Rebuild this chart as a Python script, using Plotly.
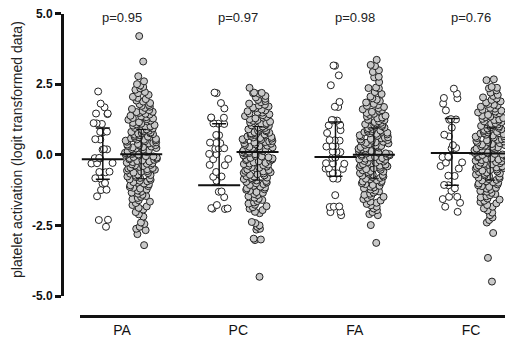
import numpy as np
import plotly.graph_objects as go

categories = ["PA", "PC", "FA", "FC"]
p_labels = ["p=0.95", "p=0.97", "p=0.98", "p=0.76"]
y_ticks = [-5.0, -2.5, 0.0, 2.5, 5.0]
y_ticktext = ["-5.0", "-2.5", "0.0", "2.5", "5.0"]

PA_small = [2.24, 1.81, 1.68, 1.46, 1.46, 1.44, 1.11, 1.12, 1.09, 0.81, 0.82, 0.79, 0.54, 0.55,
            0.19, 0.2, 0.18, -0.12, -0.11, -0.13, -0.30, -0.29, -0.31, -0.61, -0.6, -0.62, -0.83,
            -0.84, -1.0, -1.02, -1.25, -1.24, -1.47, -2.31, -2.3, -2.55]
PC_small = [2.18, 2.2, 1.83, 1.64, 1.31, 1.32, 1.3, 1.10, 1.11, 1.09, 0.69, 0.7, 0.42, 0.43, 0.41,
            0.22, 0.23, 0.21, 0.02, 0.03, -0.16, -0.15, -0.37, -0.36, -0.61, -0.78, -0.77, -0.92,
            -1.31, -1.3, -1.5, -1.78, -1.9, -1.91, -1.89, -1.92]
FA_small = [3.16, 3.15, 2.81, 2.46, 1.87, 1.69, 1.7, 1.22, 1.23, 1.21, 1.04, 1.05, 0.87, 0.77,
            0.51, 0.52, 0.5, 0.30, 0.31, 0.29, 0.10, 0.11, 0.09, -0.10, -0.11, -0.31, -0.3, -0.32,
            -0.49, -0.48, -0.5, -0.66, -0.67, -0.65, -0.84, -0.85, -1.43, -1.84, -1.83, -1.85,
            -2.02, -2.03, -2.14]
FC_small = [2.34, 2.16, 2.0, 2.01, 1.81, 1.57, 1.25, 1.26, 1.24, 0.96, 0.71, 0.65, 0.34, 0.24,
            0.22, -0.08, -0.07, -0.09, -0.27, -0.28, -0.40, -0.49, -0.75, -0.74, -1.08, -1.07,
            -1.19, -1.28, -1.49, -1.49, -1.57, -1.70, -1.84, -2.02]

PA_large = [4.2, 3.3, 2.78, 2.6, 2.5, 2.45, 2.4, 2.35, 2.3,
            2.22, 2.18, 2.12, 2.05, 2.01,
            1.97, 1.92, 1.88, 1.83, 1.79, 1.76,
            1.73, 1.70, 1.66, 1.62, 1.58, 1.55, 1.52, 1.51,
            1.48, 1.45, 1.42, 1.38, 1.36, 1.33, 1.30, 1.28, 1.26,
            1.24, 1.21, 1.18, 1.15, 1.13, 1.10, 1.08, 1.05, 1.03, 1.01, 1.00,
            0.98, 0.95, 0.93, 0.90, 0.88, 0.85, 0.83, 0.81, 0.79, 0.77, 0.76, 0.75,
            0.73, 0.71, 0.69, 0.66, 0.64, 0.62, 0.60, 0.58, 0.56, 0.54, 0.53, 0.51, 0.50,
            0.48, 0.46, 0.44, 0.42, 0.40, 0.38, 0.36, 0.34, 0.33, 0.31, 0.29, 0.27, 0.26,
            0.24, 0.22, 0.20, 0.18, 0.16, 0.14, 0.12, 0.10, 0.08, 0.07, 0.05, 0.03, 0.02, 0.01,
            -0.01, -0.03, -0.05, -0.06, -0.08, -0.10, -0.12, -0.14, -0.16, -0.18, -0.20, -0.22, -0.24,
            -0.26, -0.28, -0.30, -0.32, -0.34, -0.36, -0.38, -0.40, -0.43, -0.45, -0.47, -0.49,
            -0.51, -0.53, -0.56, -0.58, -0.60, -0.63, -0.65, -0.67, -0.70, -0.72, -0.74,
            -0.77, -0.79, -0.82, -0.84, -0.87, -0.89, -0.92, -0.94, -0.97, -0.99,
            -1.02, -1.05, -1.08, -1.11, -1.14, -1.17, -1.20, -1.23,
            -1.27, -1.31, -1.34, -1.38, -1.42, -1.46, -1.49,
            -1.53, -1.57, -1.61, -1.66, -1.71,
            -1.78, -1.83, -1.88, -1.94,
            -2.03, -2.11, -2.19,
            -2.4, -2.45, -2.55, -2.62, -2.67, -2.81, -3.2]
PC_large = [2.37, 2.2, 2.18, 2.16, 2.19,
            2.08, 2.03, 1.98, 1.94, 1.9, 1.86, 1.81, 1.77,
            1.74, 1.71, 1.67, 1.64, 1.6, 1.57, 1.54, 1.51,
            1.49, 1.46, 1.43, 1.4, 1.37, 1.34, 1.31, 1.29, 1.26,
            1.23, 1.2, 1.17, 1.14, 1.12, 1.09, 1.07, 1.04, 1.02, 1.0,
            0.97, 0.95, 0.92, 0.9, 0.87, 0.85, 0.83, 0.8, 0.78, 0.76, 0.75,
            0.74, 0.72, 0.7, 0.67, 0.65, 0.63, 0.61, 0.59, 0.57, 0.55, 0.53, 0.52,
            0.49, 0.47, 0.45, 0.43, 0.41, 0.39, 0.37, 0.35, 0.32, 0.3, 0.28, 0.26,
            0.24, 0.23, 0.21, 0.19, 0.17, 0.15, 0.13, 0.11, 0.09, 0.07, 0.06, 0.04, 0.02,
            -0.02, -0.04, -0.06, -0.09, -0.11, -0.13, -0.15, -0.17, -0.19, -0.21, -0.23,
            -0.27, -0.29, -0.31, -0.33, -0.35, -0.37, -0.39, -0.42, -0.44, -0.46, -0.48,
            -0.52, -0.54, -0.57, -0.59, -0.62, -0.64, -0.66, -0.69, -0.71, -0.73,
            -0.76, -0.78, -0.81, -0.83, -0.86, -0.88, -0.91, -0.93, -0.96, -0.98,
            -1.01, -1.04, -1.07, -1.1, -1.13, -1.16, -1.19, -1.22, -1.24,
            -1.28, -1.32, -1.35, -1.39, -1.43, -1.47,
            -1.52, -1.56, -1.6, -1.64, -1.69, -1.73,
            -1.77, -1.82, -1.86, -1.91, -1.96, -2.02, -2.07,
            -2.38, -2.42, -2.5, -2.55, -2.62, -2.65, -2.97, -3.02, -3.0, -4.32]
FA_large = [3.36, 3.18, 3.14, 2.99, 2.93, 2.76, 2.74, 2.57, 2.38, 2.36, 2.35, 2.22, 2.15,
            2.06, 2.0, 1.95, 1.9, 1.85, 1.8, 1.76,
            1.73, 1.69, 1.65, 1.61, 1.58, 1.55, 1.52,
            1.48, 1.45, 1.41, 1.38, 1.35, 1.32, 1.29, 1.27,
            1.24, 1.22, 1.19, 1.16, 1.13, 1.11, 1.08, 1.06, 1.03, 1.01,
            0.99, 0.96, 0.94, 0.91, 0.89, 0.86, 0.84, 0.82, 0.8, 0.78, 0.76,
            0.74, 0.72, 0.69, 0.67, 0.65, 0.62, 0.6, 0.58, 0.56, 0.54, 0.52, 0.5,
            0.48, 0.46, 0.44, 0.42, 0.4, 0.37, 0.35, 0.33, 0.31, 0.29, 0.27, 0.25,
            0.23, 0.21, 0.19, 0.17, 0.15, 0.13, 0.11, 0.09, 0.07, 0.05, 0.04, 0.02, 0.01,
            -0.02, -0.04, -0.06, -0.08, -0.1, -0.12, -0.14, -0.16, -0.18, -0.2, -0.22, -0.24,
            -0.26, -0.28, -0.3, -0.33, -0.35, -0.37, -0.39, -0.41, -0.44, -0.46, -0.48,
            -0.51, -0.53, -0.55, -0.58, -0.6, -0.62, -0.65, -0.67, -0.7, -0.72, -0.74,
            -0.77, -0.79, -0.82, -0.85, -0.87, -0.9, -0.93, -0.95, -0.98,
            -1.01, -1.04, -1.07, -1.1, -1.13, -1.16, -1.19, -1.23,
            -1.27, -1.3, -1.34, -1.38, -1.42, -1.46, -1.49,
            -1.53, -1.57, -1.62, -1.66, -1.7, -1.74,
            -1.79, -1.84, -1.9, -1.96, -2.03, -2.1, -2.14,
            -2.49, -3.12]
FC_large = [2.67, 2.64, 2.4, 2.37, 2.35, 2.28, 2.2, 2.12,
            2.08, 2.03, 1.99, 1.94, 1.89, 1.85, 1.8, 1.77,
            1.74, 1.7, 1.66, 1.63, 1.59, 1.56, 1.53, 1.5,
            1.47, 1.44, 1.41, 1.38, 1.35, 1.33, 1.3, 1.27, 1.25,
            1.23, 1.2, 1.18, 1.15, 1.12, 1.1, 1.07, 1.05, 1.02, 1.0,
            0.98, 0.95, 0.93, 0.9, 0.88, 0.86, 0.84, 0.81, 0.79, 0.77, 0.75,
            0.73, 0.71, 0.68, 0.66, 0.64, 0.61, 0.59, 0.57, 0.55, 0.53, 0.51,
            0.49, 0.47, 0.45, 0.43, 0.41, 0.38, 0.36, 0.34, 0.32, 0.3, 0.28, 0.26,
            0.24, 0.22, 0.2, 0.18, 0.16, 0.14, 0.12, 0.1, 0.08, 0.06, 0.05, 0.03, 0.01,
            -0.01, -0.03, -0.05, -0.07, -0.09, -0.11, -0.13, -0.15, -0.17, -0.19, -0.21, -0.23,
            -0.26, -0.28, -0.3, -0.32, -0.34, -0.36, -0.38, -0.41, -0.43, -0.45, -0.47, -0.49,
            -0.52, -0.54, -0.56, -0.59, -0.61, -0.63, -0.66, -0.68, -0.7, -0.73,
            -0.76, -0.78, -0.81, -0.83, -0.86, -0.89, -0.91, -0.94, -0.97, -0.99,
            -1.02, -1.05, -1.08, -1.11, -1.14, -1.17, -1.2, -1.24,
            -1.28, -1.31, -1.35, -1.39, -1.43, -1.47,
            -1.51, -1.55, -1.59, -1.63, -1.67, -1.72,
            -1.78, -1.84, -1.9, -1.97, -2.05, -2.14, -2.22, -2.31,
            -2.4, -2.77, -3.65, -4.49]

# summary lines (centre line, upper and lower whisker ends)
small_center = [-0.16, -1.08, -0.08, 0.06]
small_upper = [0.95, 1.10, 1.16, 1.28]
small_lower = [-0.87, -1.08, -0.76, -1.08]
large_center = [0.02, 0.10, 0.00, 0.04]
large_upper = [0.90, 1.00, 0.95, 0.95]
large_lower = [-0.85, -0.90, -0.85, -0.90]

small_groups = [PA_small, PC_small, FA_small, FC_small]
large_groups = [PA_large, PC_large, FA_large, FC_large]

# page body has an 8px margin: figure is drawn at (8, 8) in the 520x341 window
OFF = 8
W, H = 520 - OFF, 341 - OFF


def px(x):
    return (x - OFF) / W


def py(y):
    return 1 - (y - OFF) / H


FONT = "Liberation Sans, Arial, sans-serif"
cat_pos = np.arange(1, len(categories) + 1)
off = 0.165
xs_small = cat_pos - off
xs_large = cat_pos + off

fig = go.Figure()

# whiskers of large groups (behind the dots)
fig.add_trace(go.Scatter(
    x=xs_large, y=large_center, mode="markers",
    marker=dict(size=1, color="rgba(0,0,0,0)"),
    error_y=dict(type="data", symmetric=False,
                 array=np.array(large_upper) - np.array(large_center),
                 arrayminus=np.array(large_center) - np.array(large_lower),
                 color="#111", thickness=1.2, width=5),
    showlegend=False, hoverinfo="skip"))

for k in range(len(categories)):
    fig.add_trace(go.Box(
        x=[xs_small[k]] * len(small_groups[k]), y=small_groups[k],
        boxpoints="all", jitter=1, pointpos=0, width=0.2,
        fillcolor="rgba(0,0,0,0)", line=dict(color="rgba(0,0,0,0)", width=0),
        marker=dict(size=7, color="white", line=dict(color="#222", width=1)),
        showlegend=False, hoverinfo="y"))
    fig.add_trace(go.Box(
        x=[xs_large[k]] * len(large_groups[k]), y=large_groups[k],
        boxpoints="all", jitter=1, pointpos=0, width=0.28,
        fillcolor="rgba(0,0,0,0)", line=dict(color="rgba(0,0,0,0)", width=0),
        marker=dict(size=7, color="#c9c9c9", line=dict(color="#222", width=1)),
        showlegend=False, hoverinfo="y"))

# whiskers of small groups (on top)
fig.add_trace(go.Scatter(
    x=xs_small, y=small_center, mode="markers",
    marker=dict(size=1, color="rgba(0,0,0,0)"),
    error_y=dict(type="data", symmetric=False,
                 array=np.array(small_upper) - np.array(small_center),
                 arrayminus=np.array(small_center) - np.array(small_lower),
                 color="#111", thickness=1.5, width=7),
    showlegend=False, hoverinfo="skip"))

# centre lines
fig.add_trace(go.Scatter(
    x=list(xs_small) + list(xs_large), y=small_center + large_center, mode="markers",
    marker=dict(symbol="line-ew", size=30, line=dict(color="#111", width=2)),
    showlegend=False, hoverinfo="skip"))

for k in range(len(categories)):
    fig.add_annotation(x=cat_pos[k], y=4.86, xref="x", yref="y", text=p_labels[k],
                       showarrow=False, font=dict(family=FONT, size=13, color="#222"))

fig.add_annotation(x=px(17), y=py(150), xref="paper", yref="paper",
                   xanchor="center", yanchor="middle",
                   text="platelet activation (logit transformed data)", textangle=-90,
                   showarrow=False, font=dict(family=FONT, size=14, color="#222"))

fig.update_layout(
    template="none",
    width=W, height=H,
    margin=dict(l=0, r=0, t=0, b=0, pad=0, autoexpand=False),
    paper_bgcolor="white", plot_bgcolor="white",
    boxmode="overlay",
    showlegend=False,
    font=dict(family=FONT, color="#111"),
    xaxis=dict(domain=[px(80), px(505)], range=[0.639, 4.292], anchor="free",
               position=py(316), tickvals=list(cat_pos), ticktext=categories,
               showline=True, linecolor="#111", linewidth=3, ticks="",
               showgrid=False, zeroline=False, automargin=False,
               ticklabeloverflow="allow",
               tickfont=dict(family=FONT, size=14, color="#111")),
    yaxis=dict(domain=[py(296), py(13.5)], range=[-5, 5], anchor="free",
               position=px(62), tickvals=y_ticks, ticktext=y_ticktext,
               showline=True, linecolor="#111", linewidth=3, ticks="outside",
               ticklen=6, tickwidth=2.5, tickcolor="#111",
               showgrid=False, zeroline=False, automargin=False,
               ticklabeloverflow="allow",
               tickfont=dict(family=FONT, size=12, color="#111", weight="bold")),
)

fig.write_html("out.html")
